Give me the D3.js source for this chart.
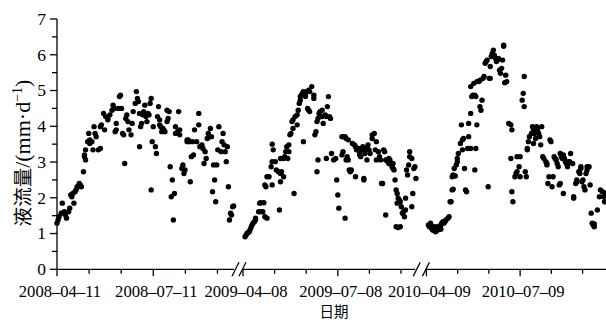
<!DOCTYPE html>
<html><head><meta charset="utf-8">
<script src="https://cdn.jsdelivr.net/npm/d3@7"></script>
<style>body{margin:0;background:#fff}svg{display:block}</style>
</head><body>
<svg id="c" width="606" height="321"></svg>
<script>
// ---- data ----
const seasonStarts = ["2008-04-11", "2009-04-08", "2010-04-09"];
const seasonLengths = [167.3, 165.3, 174.4]; // days shown in each axis segment
const tickLabels = ["2008-04-11", "2008-07-11", "2009-04-08", "2009-07-08", "2010-04-09", "2010-07-09"];
const yTicks = [0, 1, 2, 3, 4, 5, 6, 7];
const yTitleCJK = "液流量";
const yTitleUnit = "/(mm·d";
const yTitleSup = "−1";
const xTitle = "日期";
// [day since season start, sap flow mm·d-1]
const flow2008 = [[0,1.29],[1,1.38],[2,1.47],[4,1.57],[5,1.85],[7,1.61],[8,1.52],[8,1.57],[9,1.43],[11,1.61],[12,1.71],[13,2.08],[14,2.03],[15,2.12],[16,1.85],[17,2.17],[18,2.22],[19,2.31],[20,2.31],[21,2.40],[22,2.36],[23,2.31],[25,2.73],[26,3.15],[26,3.20],[27,3.34],[27,3.06],[29,3.57],[30,3.80],[31,3.62],[31,3.52],[33,3.57],[34,3.34],[35,3.99],[36,3.80],[37,3.71],[39,3.34],[41,3.38],[41,3.99],[42,4.04],[44,4.36],[45,3.90],[46,4.27],[48,4.22],[48,4.18],[50,4.32],[52,4.45],[53,4.59],[54,4.50],[55,3.85],[56,3.90],[56,4.08],[58,4.50],[59,4.83],[60,4.87],[61,4.50],[62,3.80],[63,3.76],[64,2.96],[65,4.22],[66,4.32],[67,4.13],[68,3.90],[70,3.76],[71,4.08],[72,4.41],[74,4.64],[75,4.97],[76,4.78],[77,4.69],[78,4.36],[78,3.43],[79,3.99],[80,4.08],[81,4.32],[82,4.41],[83,4.59],[84,4.27],[85,4.13],[86,4.36],[87,4.32],[88,4.64],[89,4.78],[89,2.22],[90,3.57],[91,3.99],[93,3.43],[94,3.24],[95,4.27],[96,4.55],[97,4.18],[97,4.04],[98,3.99],[99,3.85],[100,3.94],[101,3.90],[102,3.85],[104,4.45],[104,4.13],[105,4.22],[106,4.41],[107,2.87],[108,2.03],[109,2.50],[110,1.38],[111,2.12],[112,3.80],[112,3.99],[114,3.85],[115,4.41],[116,3.76],[116,3.90],[118,2.82],[119,2.92],[120,2.68],[121,2.78],[123,3.62],[123,3.57],[124,3.62],[125,3.57],[126,2.45],[127,3.15],[128,3.57],[129,3.20],[130,3.90],[132,3.57],[134,4.36],[134,4.04],[135,3.43],[137,3.48],[138,3.38],[139,2.96],[140,3.29],[141,3.10],[142,3.66],[143,3.80],[144,3.71],[145,3.94],[146,3.71],[147,2.17],[148,2.92],[149,2.50],[150,1.89],[151,2.92],[152,3.34],[153,3.99],[155,3.29],[156,3.57],[157,3.80],[158,3.48],[159,3.29],[160,3.01],[161,3.43],[162,2.31],[163,1.38],[164,1.57],[165,1.52],[166,1.75],[167,1.77]];
const flow2009 = [[2,0.91],[3,0.96],[4,1.01],[5,1.03],[6,1.05],[7,1.12],[8,1.19],[9,1.26],[10,1.30],[11,1.33],[12,1.38],[12,1.43],[15,1.61],[16,1.85],[17,1.86],[17,1.61],[19,1.61],[20,1.86],[21,1.47],[23,1.43],[21,2.36],[22,2.31],[23,2.59],[25,2.59],[28,2.36],[27,2.87],[28,3.01],[31,3.01],[29,3.34],[28,3.50],[32,2.78],[34,2.73],[36,2.68],[36,2.45],[35,1.66],[37,2.73],[39,2.59],[36,3.10],[39,3.10],[40,3.15],[41,3.29],[42,3.43],[43,3.10],[44,3.29],[44,3.48],[45,3.76],[46,3.80],[48,3.94],[47,4.13],[48,4.18],[49,2.12],[50,4.27],[52,4.32],[52,4.04],[53,4.45],[54,4.64],[55,4.73],[55,4.83],[56,4.87],[57,4.92],[58,4.97],[58,3.57],[59,4.87],[60,4.83],[60,4.92],[61,4.97],[63,5.01],[64,4.97],[66,5.11],[62,4.50],[63,4.45],[64,4.41],[68,4.87],[68,4.78],[69,3.76],[70,3.85],[71,4.13],[72,4.22],[73,4.36],[74,4.41],[76,4.45],[76,4.27],[77,4.08],[79,4.32],[80,4.27],[82,4.83],[81,4.55],[83,4.27],[84,4.22],[71,2.73],[72,3.06],[80,3.10],[85,3.24],[87,3.06],[89,3.10],[90,2.50],[91,2.08],[92,1.71],[95,3.71],[96,3.71],[98,3.71],[99,3.66],[101,3.62],[95,3.20],[96,3.29],[98,1.43],[99,3.06],[100,3.15],[101,3.06],[102,2.78],[103,2.73],[104,2.78],[105,3.52],[107,3.48],[108,3.43],[108,2.59],[109,3.34],[111,3.38],[112,3.29],[112,3.20],[113,3.15],[114,3.34],[115,3.43],[116,2.54],[116,2.50],[117,3.24],[118,3.34],[119,3.38],[119,3.06],[120,3.48],[121,3.34],[122,3.24],[124,3.76],[124,3.66],[126,3.80],[127,3.34],[128,3.57],[128,3.06],[130,3.29],[131,3.15],[132,3.06],[133,2.40],[134,2.40],[135,3.34],[136,3.29],[137,3.06],[139,3.01],[140,2.96],[140,3.10],[141,3.06],[143,2.87],[144,2.96],[144,2.82],[145,2.78],[146,2.50],[147,2.22],[148,2.12],[148,1.85],[149,1.99],[150,1.94],[151,1.89],[152,1.75],[153,1.57],[154,1.61],[155,1.47],[156,1.99],[156,1.66],[157,2.78],[158,2.64],[159,2.92],[160,3.29],[160,3.15],[162,3.10],[163,2.12],[164,2.82],[165,2.87],[166,2.54],[162,1.75],[147,1.19],[149,1.17],[151,1.19],[137,1.52]];
const flow2010 = [[2,1.24],[3,1.19],[4,1.29],[5,1.15],[6,1.12],[6,1.10],[7,1.19],[8,1.08],[9,1.05],[10,1.12],[10,1.19],[11,1.10],[12,1.15],[13,1.19],[14,1.12],[14,1.24],[15,1.29],[16,1.33],[17,1.29],[18,1.33],[19,1.38],[21,1.43],[22,1.47],[23,1.89],[24,1.89],[25,2.22],[26,2.24],[38,2.22],[39,2.17],[25,2.59],[26,2.64],[28,2.61],[27,2.82],[29,2.92],[30,3.01],[30,3.10],[31,3.24],[33,3.52],[35,3.62],[36,3.66],[35,3.34],[37,2.82],[40,3.38],[41,3.71],[43,3.38],[34,4.04],[41,4.08],[43,4.36],[48,3.38],[47,2.78],[49,4.04],[44,4.83],[45,4.87],[47,4.87],[48,4.83],[43,5.11],[46,5.20],[49,5.25],[51,5.25],[52,5.29],[52,4.55],[53,4.45],[54,4.73],[55,5.34],[56,5.39],[57,5.76],[58,5.81],[59,5.85],[61,5.34],[62,5.34],[62,5.67],[63,5.95],[64,6.04],[65,6.13],[66,5.99],[67,5.90],[68,5.81],[69,5.85],[70,5.90],[71,5.57],[72,5.48],[73,5.62],[74,5.85],[75,6.24],[75,6.27],[76,5.22],[77,5.43],[78,5.25],[60,2.31],[80,4.08],[82,4.04],[83,3.90],[82,3.10],[83,2.17],[84,1.89],[86,2.59],[87,2.68],[88,2.73],[88,3.15],[90,2.87],[91,3.15],[91,2.59],[93,4.73],[94,4.92],[95,4.55],[95,5.39],[96,2.73],[97,2.59],[98,3.38],[98,3.34],[99,3.57],[100,3.71],[102,3.80],[103,3.99],[104,3.90],[104,3.52],[105,3.80],[106,3.66],[107,3.99],[108,3.85],[108,3.94],[109,3.80],[110,3.71],[111,3.48],[112,3.99],[113,3.15],[114,3.10],[116,3.01],[117,2.96],[117,2.92],[118,2.40],[120,3.62],[121,3.57],[119,2.59],[122,2.31],[123,2.59],[124,3.15],[125,3.10],[126,3.06],[127,2.96],[128,2.87],[129,2.36],[130,2.40],[130,3.24],[131,3.15],[132,3.10],[133,2.12],[133,3.20],[134,3.10],[135,3.01],[136,2.96],[137,2.87],[137,2.92],[138,3.01],[139,3.01],[140,3.24],[142,2.96],[143,2.03],[143,1.99],[145,2.40],[146,2.45],[146,2.50],[148,2.73],[149,2.68],[150,2.82],[150,2.87],[151,2.45],[152,2.50],[153,2.31],[154,2.22],[155,2.68],[156,2.78],[156,2.87],[158,2.87],[159,2.36],[160,1.57],[161,1.29],[162,1.24],[163,1.19],[163,1.27],[166,1.66],[168,2.03],[169,2.22],[171,2.17],[172,2.03],[173,1.89],[174,2.13]];
const seasons = [flow2008, flow2009, flow2010];

// ---- layout ----
const axisY = 269.3, topY = 19;
const segRanges = [[57, 234], [243, 415.2], [426.4, 606]];
const gaps = [[234, 243], [415.2, 426.4]];
const serif = "'Liberation Serif','Times New Roman',serif";
const cjk = "'Noto Sans CJK SC','Noto Sans CJK JP',sans-serif";

const svg = d3.select("#c");
const y = d3.scaleLinear().domain([0, 7]).range([axisY, topY]);
const parse = d3.utcParse("%Y-%m-%d");
const segScales = seasonStarts.map((s, i) =>
  d3.scaleLinear().domain([0, seasonLengths[i]]).range(segRanges[i]));

// points
const g = svg.append("g");
seasons.forEach((data, i) => {
  g.selectAll(null).data(data).join("circle")
    .attr("cx", d => segScales[i](d[0]))
    .attr("cy", d => y(d[1]))
    .attr("r", 2.7)
    .attr("fill", "#000");
});

// y axis
const ax = svg.append("g").attr("stroke", "#000").attr("stroke-width", 1.3);
ax.append("line").attr("x1", 57).attr("x2", 57).attr("y1", y(7)).attr("y2", axisY);
d3.range(0, 7.01, 0.5).forEach(v => {
  const major = Number.isInteger(v);
  ax.append("line").attr("x1", 57 - (major ? 7 : 5)).attr("x2", 57)
    .attr("y1", y(v)).attr("y2", y(v));
});
svg.append("g").selectAll("text").data(yTicks).join("text")
  .attr("x", 46).attr("y", d => y(d)).attr("dy", "0.34em")
  .attr("text-anchor", "end").attr("font-family", serif).attr("font-size", 17.5)
  .text(d => d);

// x axis segments
segRanges.forEach((r, i) => {
  ax.append("line").attr("x1", r[0]).attr("x2", r[1]).attr("y1", axisY).attr("y2", axisY);
  const sc = segScales[i];
  const step = 91 / 3;
  d3.range(0, seasonLengths[i] + 0.01, step).forEach((d, k) => {
    const major = k % 3 === 0;
    ax.append("line").attr("x1", sc(d)).attr("x2", sc(d))
      .attr("y1", axisY).attr("y2", axisY + (major ? 7 : 4.5));
  });
});
// break marks
gaps.forEach(gp => {
  [gp[0] + 1.5, gp[1] - 0.5].forEach(cx => {
    ax.append("line").attr("x1", cx - 3.5).attr("x2", cx + 3.5)
      .attr("y1", axisY + 7).attr("y2", axisY - 7);
  });
});

// x tick labels
svg.append("g").selectAll("text").data(tickLabels).join("text")
  .attr("x", t => {
    const i = seasonStarts.findIndex((s, k) => {
      const next = seasonStarts[k + 1];
      return parse(t) >= parse(s) && (!next || parse(t) < parse(next));
    });
    const days = d3.utcDay.count(parse(seasonStarts[i]), parse(t));
    return segScales[i](days) + 3;
  })
  .attr("y", 296.5)
  .attr("text-anchor", "middle").attr("font-family", serif).attr("font-size", 16.6)
  .text(t => t.replace(/-/g, "–"));

// x title
svg.append("text").attr("x", 334).attr("y", 316.6)
  .attr("text-anchor", "middle").attr("font-family", cjk).attr("font-size", 14.5)
  .text(xTitle);

// y title
const yt = svg.append("text")
  .attr("transform", "translate(30,153) rotate(-90)")
  .attr("text-anchor", "middle");
yt.append("tspan").attr("font-family", cjk).attr("font-size", 19.5).text(yTitleCJK);
yt.append("tspan").attr("font-family", serif).attr("font-size", 22).text(yTitleUnit);
yt.append("tspan").attr("font-family", serif).attr("font-size", 14).attr("dy", -8).text(yTitleSup);
yt.append("tspan").attr("font-family", serif).attr("font-size", 22).attr("dy", 8).text(")");
</script>
</body></html>
